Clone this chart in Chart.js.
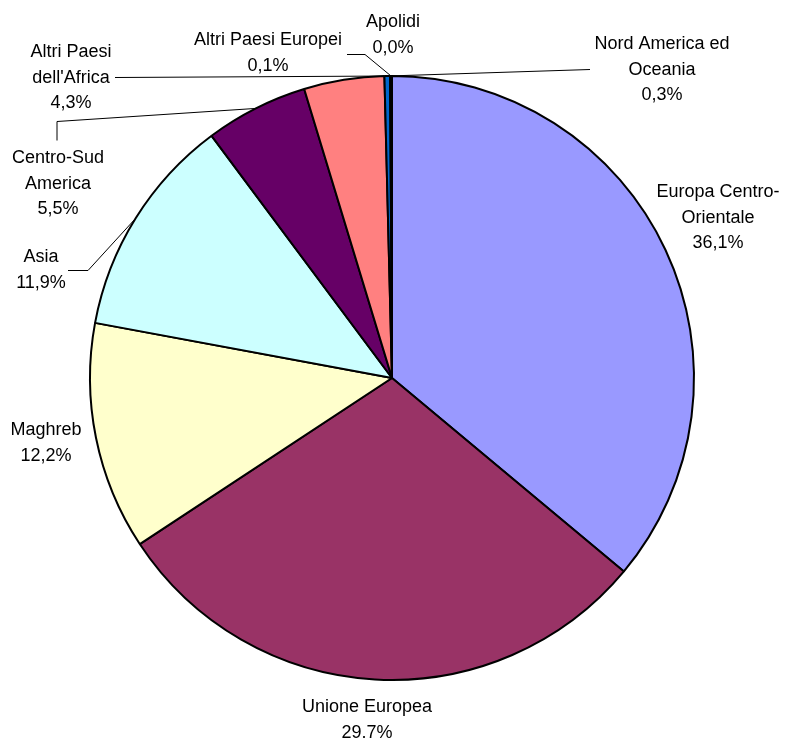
<!DOCTYPE html>
<html>
<head>
<meta charset="utf-8">
<script src="https://cdn.jsdelivr.net/npm/chart.js@4/dist/chart.umd.min.js"></script>
<style>
  html, body { margin: 0; padding: 0; background: #fff; }
  #pie { display: block; }
</style>
</head>
<body>
<canvas id="pie" width="788" height="740"></canvas>
<script>
// categories (each one split into the lines shown in its label)
const categories = [
    ['Europa Centro-', 'Orientale'],
    ['Unione Europea'],
    ['Maghreb'],
    ['Asia'],
    ['Centro-Sud', 'America'],
    ['Altri Paesi', "dell'Africa"],
    ['Nord America ed', 'Oceania'],
    ['Altri Paesi Europei'],
    ['Apolidi']
];
const shares = [36.1, 29.7, 12.2, 11.9, 5.5, 4.3, 0.3, 0.1, 0.0];
const shareLabels = ['36,1%', '29.7%', '12,2%', '11,9%', '5,5%', '4,3%', '0,3%', '0,1%', '0,0%'];
const colors = ['#9999FF', '#993366', '#FFFFCC', '#CCFFFF', '#660066', '#FF8080', '#0066CC', '#CCCCFF', '#000080'];

// label centres, relative to the pie centre
const labelOffsets = [
    [326, -160], [-25, 342], [-346, 65], [-351, -108], [-334, -194],
    [-321, -300], [270, -308], [-124, -325], [1, -343]
];
// leader lines: fixed points (relative to centre) then the slice point [arc, fraction]
const leaders = [
    null, null, null,
    { pts: [[-324, -108], [-304, -108]], anchor: [3, 0.5] },
    { pts: [[-335, -238], [-335, -257]], anchor: [4, 0.5] },
    { pts: [[-277, -301]], anchor: [8, 0] },
    { pts: [[198, -309]], anchor: [6, 0.5] },
    { pts: [[-45, -324], [-27, -324]], anchor: [7, 0.5] },
    null
];

const sliceLabels = {
    id: 'sliceLabels',
    afterDatasetsDraw(chart) {
        const ctx = chart.ctx;
        const arcs = chart.getDatasetMeta(0).data;
        const cx = arcs[0].x, cy = arcs[0].y;
        ctx.save();
        ctx.strokeStyle = '#000';
        ctx.lineWidth = 1;
        leaders.forEach(l => {
            if (!l) return;
            const a = arcs[l.anchor[0]];
            const ang = a.startAngle + (a.endAngle - a.startAngle) * l.anchor[1];
            ctx.beginPath();
            l.pts.forEach((p, i) => {
                if (i === 0) ctx.moveTo(cx + p[0], cy + p[1] + 0.5);
                else ctx.lineTo(cx + p[0], cy + p[1] + 0.5);
            });
            ctx.lineTo(a.x + a.outerRadius * Math.cos(ang), a.y + a.outerRadius * Math.sin(ang));
            ctx.stroke();
        });

        ctx.fillStyle = '#000';
        ctx.font = '18px "Liberation Sans", Arial, sans-serif';
        ctx.textAlign = 'center';
        ctx.textBaseline = 'middle';
        const lh = 25.5;
        categories.forEach((cat, i) => {
            const lines = cat.concat([shareLabels[i]]);
            const x = cx + labelOffsets[i][0];
            const top = cy + labelOffsets[i][1] - (lines.length - 1) * lh / 2;
            lines.forEach((t, j) => ctx.fillText(t, x, top + j * lh));
        });
        ctx.restore();
    }
};

new Chart(document.getElementById('pie'), {
    type: 'pie',
    data: {
        labels: categories.map(c => c.join(' ')),
        datasets: [{
            data: shares,
            backgroundColor: colors,
            borderColor: '#000',
            borderWidth: 2
        }]
    },
    options: {
        responsive: false,
        animation: false,
        radius: 302,
        layout: { padding: { left: 89, right: 93, top: 75, bottom: 59 } },
        plugins: {
            legend: { display: false },
            tooltip: { enabled: false }
        }
    },
    plugins: [sliceLabels]
});
</script>
</body>
</html>
